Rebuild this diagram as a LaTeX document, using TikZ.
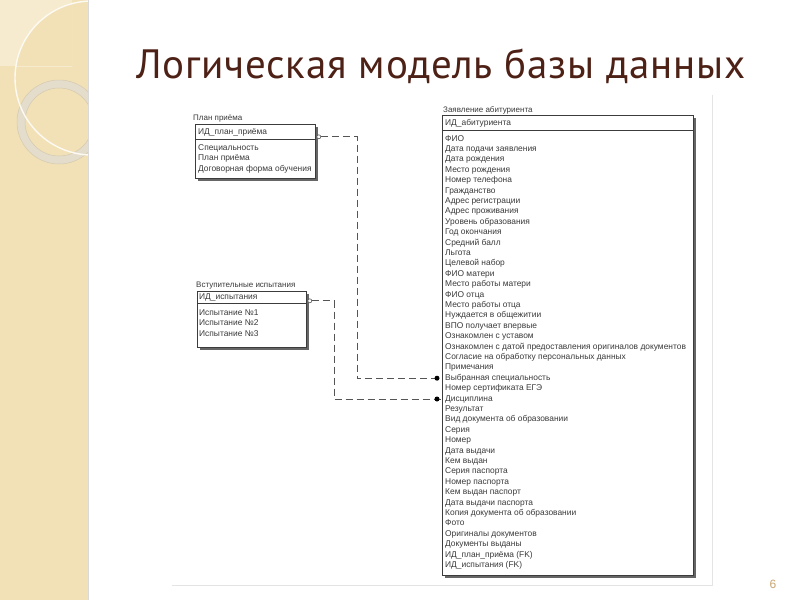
\documentclass[tikz,border=0pt]{standalone}
\usepackage{fontspec}
\setmainfont{Liberation Sans}
\newfontfamily\titlefont[LetterSpace=2.0]{PT Sans}
\usetikzlibrary{arrows.meta,shadows}
\definecolor{barbeige}{HTML}{F2E1B6}
\definecolor{barlight}{HTML}{F6EBCF}
\definecolor{ringc}{HTML}{E4DDCC}
\definecolor{ringedge}{HTML}{D5CAB0}
\definecolor{titlec}{HTML}{4E2116}
\definecolor{pagec}{HTML}{C8A570}
\definecolor{boxc}{HTML}{3C3C3C}
\definecolor{txtc}{HTML}{3A3A3A}
\definecolor{framec}{HTML}{E4E4E4}
\definecolor{relc}{HTML}{555555}
\begin{document}
\begin{tikzpicture}[x=1pt,y=-1pt,
  ent/.style={draw=boxc, line width=0.8pt, fill=white, inner sep=0pt, anchor=north west,
    drop shadow={shadow xshift=3pt, shadow yshift=-3pt, fill=black!60, opacity=1}},
  entnoshadow/.style={draw=boxc, line width=0.8pt, fill=white, inner sep=0pt, anchor=north west},
  row/.style={anchor=west, inner sep=0pt, text height=6pt, text depth=2pt, text=txtc,
    font=\fontsize{8.4}{10}\selectfont},
  entlabel/.style={anchor=west, inner sep=0pt, text height=6pt, text depth=2pt, text=txtc,
    font=\fontsize{8}{10}\selectfont},
  rel/.style={draw=relc, line width=0.9pt, dash pattern=on 7pt off 4pt},
  pdot/.style={circle, fill=black, inner sep=0pt, minimum size=5pt},
  popen/.style={circle, draw=relc, fill=white, line width=0.6pt, inner sep=0pt, minimum size=4pt}
]
\useasboundingbox (0,0) rectangle (800,600);
\fill[white] (0,0) rectangle (800,600);
% left decorative bar
\begin{scope}
  \clip (0,0) rectangle (88,600);
  \fill[barbeige] (0,0) rectangle (88,600);
  \begin{scope}
    \clip (0,0) rectangle (72,66);
    \fill[barlight, even odd rule] (0,0) rectangle (72,66) (92,78) circle[radius=77];
  \end{scope}
  \fill[ringc, even odd rule] (59,122) circle[radius=42] (59,122) circle[radius=34];
  \draw[ringedge, line width=0.5pt] (59,122) circle[radius=42] (59,122) circle[radius=34];
  \draw[white!85!barbeige, line width=1.4pt] (92,78) circle[radius=77];
\end{scope}
\draw[black!15, line width=0.8pt] (88.4,0) -- (88.4,600);
% title
\node[anchor=base west, inner sep=0pt, text=titlec, font=\titlefont\fontsize{41}{41}\selectfont] (title) at (136,78) {Логическая модель базы данных};
% pasted-image frame
\coordinate (fbl) at (172,585);
\coordinate (fbr) at (712,585);
\coordinate (ftr) at (712,95);
\draw[framec, line width=0.8pt] (fbl) -- (fbr) -- (ftr);
% page number
\node[anchor=base, inner sep=0pt, text=pagec, font=\fontsize{12}{12}\selectfont] (pg) at (773,588) {6};

% ---- Entity: План приёма
\node[entlabel] (planL) at (193,118) {План приёма};
\node[ent, minimum width=120pt, minimum height=54pt] (planBox) at (195,124) {};
\node[entnoshadow, minimum width=120pt, minimum height=15pt] (planK) at (195,124) {};
\node[row] (planKey) at (198,132) {ИД\_план\_приёма};
\foreach \t [count=\i] in {Специальность, План приёма, Договорная форма обучения}
  \node[row] (plan\i) at (198,{137.5+\i*10.5}) {\t};

% ---- Entity: Вступительные испытания
\node[entlabel] (vsL) at (196,285) {Вступительные испытания};
\node[ent, minimum width=109pt, minimum height=56pt] (vsBox) at (197,291) {};
\node[entnoshadow, minimum width=109pt, minimum height=12pt] (vsK) at (197,291) {};
\node[row] (vsKey) at (199,297) {ИД\_испытания};
\foreach \t [count=\i] in {Испытание №1, Испытание №2, Испытание №3}
  \node[row] (vs\i) at (199,{302.5+\i*10.5}) {\t};

% ---- Entity: Заявление абитуриента
\node[entlabel] (abL) at (443,110) {Заявление абитуриента};
\node[ent, minimum width=251pt, minimum height=460pt] (abBox) at (442,115) {};
\node[entnoshadow, minimum width=251pt, minimum height=15pt] (abK) at (442,115) {};
\node[row] (abKey) at (445,123) {ИД\_абитуриента};
\foreach \t [count=\i] in {ФИО, Дата подачи заявления, Дата рождения, Место рождения,
  Номер телефона, Гражданство, Адрес регистрации, Адрес проживания, Уровень образования,
  Год окончания, Средний балл, Льгота, Целевой набор, ФИО матери, Место работы матери,
  ФИО отца, Место работы отца, Нуждается в общежитии, ВПО получает впервые,
  Ознакомлен с уставом, Ознакомлен с датой предоставления оригиналов документов,
  Согласие на обработку персональных данных, Примечания, Выбранная специальность,
  Номер сертификата ЕГЭ, Дисциплина, Результат, Вид документа об образовании, Серия,
  Номер, Дата выдачи, Кем выдан, Серия паспорта, Номер паспорта, Кем выдан паспорт,
  Дата выдачи паспорта, Копия документа об образовании, Фото, Оригиналы документов,
  Документы выданы, ИД\_план\_приёма (FK), ИД\_испытания (FK)}
  \node[row] (ab\i) at (445,{128.6+\i*10.4}) {\t};

% ---- Relationships
\coordinate (j1) at (357,0);
\coordinate (j2) at (334,0);
\coordinate (p1) at ([yshift=3pt]planK.south east);
\coordinate (p2) at ([yshift=3pt]vsK.south east);
\coordinate (e1) at ([xshift=-5pt]abBox.west |- ab24);
\coordinate (e2) at ([xshift=-5pt]abBox.west |- ab26);
\draw[rel] ([xshift=5pt]p1) -| (j1 |- e1) -- (abBox.west |- e1);
\draw[rel] ([xshift=5pt]p2) -| (j2 |- e2) -- (abBox.west |- e2);
\node[popen] (o1) at ([xshift=3pt]p1) {};
\node[popen] (o2) at ([xshift=3pt]p2) {};
\node[pdot] (d1) at (e1) {};
\node[pdot] (d2) at (e2) {};
\end{tikzpicture}
\end{document}
